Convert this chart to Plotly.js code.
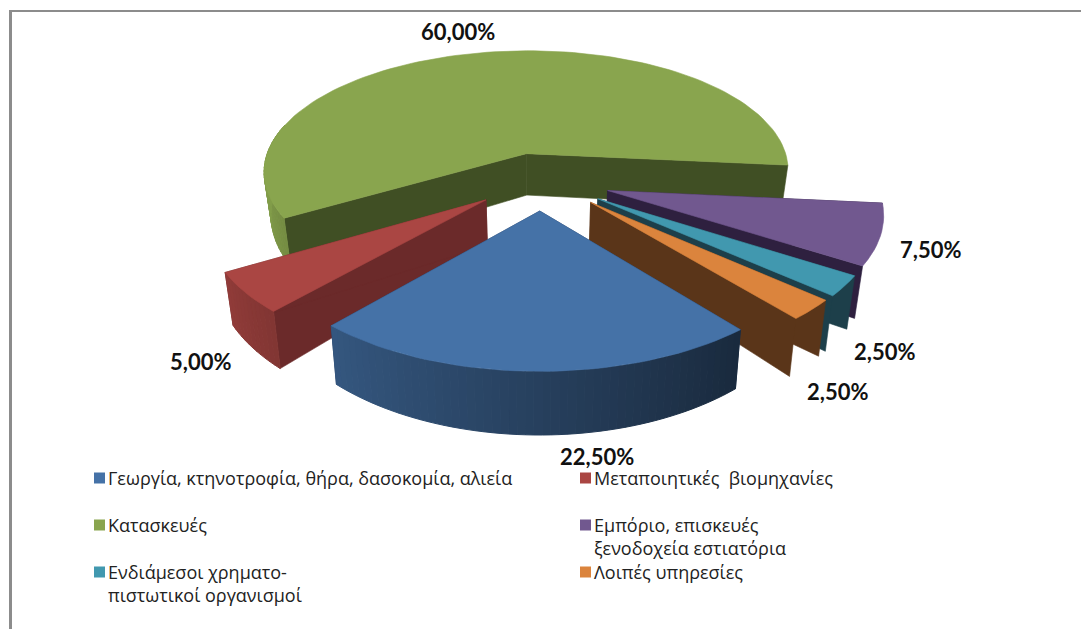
<!DOCTYPE html>
<html><head><meta charset="utf-8">
<script src="https://cdn.plot.ly/plotly-3.0.1.min.js"></script>
<style>html,body{margin:0;padding:0;background:#fff}#chart{width:1081px;height:629px}</style>
</head><body><div id="chart"></div>
<script>
// Data, in chart order (clockwise)
var categories = ["Γεωργία, κτηνοτροφία, θήρα, δασοκομία, αλιεία","Μεταποιητικές  βιομηχανίες","Κατασκευές","Εμπόριο, επισκευές<br>ξενοδοχεία εστιατόρια","Ενδιάμεσοι χρηματο-<br>πιστωτικοί οργανισμοί","Λοιπές υπηρεσίες"];
var values = [22.5, 5, 60, 7.5, 2.5, 2.5];
var valueLabels = ["22,50%","5,00%","60,00%","7,50%","2,50%","2,50%"];
var topColors = [[69,114,167],[170,70,67],[137,165,78],[113,88,143],[65,152,175],[219,132,61]];
var wallColors = [[34,56,90],[107,42,42],[64,79,36],[46,32,63],[29,63,74],[90,53,25]];
var labelPos = [[597,456],[200,361],[458,31],[930,249],[884,351],[837,391]];
var legendPos = [[94,478],[580,478],[94,525],[580,525],[94,572],[580,572]];

// Projection of the tilted, exploded pie
var cx=541, cy=181, R=268, K=126, P=0.151, H=44, EXPL=0.23, EXX=1.13, BOTTOM_SHRINK=0.975, FIRST_ANGLE=50.5;
function proj(x,v,z){ // x,v in radius units; z=0 top face, z=1 bottom face
  var s=1/(1-P*v);
  var b=z?BOTTOM_SHRINK:1;
  return [cx+R*x*s*b, cy+K*v*s+(z?H*Math.pow(s,1.8):0)];
}
function rgb(c,f){f=f===undefined?1:f;return 'rgb('+c.map(function(a){return Math.round(a*f)}).join(',')+')';}
var total=values.reduce(function(a,b){return a+b},0);
var slices=[], ang=FIRST_ANGLE; // screen angle, y down: 0 = right, 90 = toward viewer, increasing clockwise
values.forEach(function(val,i){
  var span=val/total*360, st=ang, en=ang+span, mid=(st+en)/2;
  slices.push({i:i,st:st,en:en,ox:Math.cos(mid*Math.PI/180)*EXPL*EXX,ov:Math.sin(mid*Math.PI/180)*EXPL});
  ang=en;
});
function rimPt(sl,a,z){var t=a*Math.PI/180;return proj(sl.ox+Math.cos(t),sl.ov+Math.sin(t),z);}
function apex(sl,z){return proj(sl.ox,sl.ov,z);}
var traces=[];
function poly(pts,color,lw){
  traces.push({type:'scatter',mode:'lines',x:pts.map(function(p){return p[0]}).concat([pts[0][0]]),y:pts.map(function(p){return p[1]}).concat([pts[0][1]]),
    fill:'toself',fillcolor:color,line:{color:color,width:lw===undefined?0.6:lw},hoverinfo:'skip',showlegend:false});
}
function wallShade(a){ // a = screen angle between 0 (right) and 180 (left)
  var f=1-0.0049*(180-a);
  return Math.max(0.36,Math.min(0.95,f));
}
function drawSlice(sl){
  var base=topColors[sl.i];
  [sl.st,sl.en].forEach(function(a){
    poly([apex(sl,0),rimPt(sl,a,0),rimPt(sl,a,1),apex(sl,1)],rgb(wallColors[sl.i]));
  });
  var step=1.5;
  for(var a=sl.st;a<sl.en-0.01;a+=step){
    var b=Math.min(a+step,sl.en);
    var m=(a+b)/2;
    if(m>195) continue;
    var f=m>180?0.92:wallShade(m);
    poly([rimPt(sl,a,0),rimPt(sl,b,0),rimPt(sl,b,1),rimPt(sl,a,1)],rgb(base,f),1);
  }
  var pts=[apex(sl,0)];
  for(var a2=sl.st;a2<sl.en;a2+=2)pts.push(rimPt(sl,a2,0));
  pts.push(rimPt(sl,sl.en,0));
  poly(pts,rgb(base));
}
[2,3,4,5,1,0].forEach(function(i){drawSlice(slices[i]);});
// legend swatches
traces.push({type:'scatter',mode:'markers',x:legendPos.map(function(p){return p[0]+5.5}),y:legendPos.map(function(p){return p[1]}),
  marker:{symbol:'square',size:11,color:topColors.map(function(c){return rgb(c)})},hoverinfo:'skip',showlegend:false});
var anns=[];
valueLabels.forEach(function(t,i){
  anns.push({x:labelPos[i][0],y:labelPos[i][1],xref:'x',yref:'y',text:t,showarrow:false,xanchor:'center',yanchor:'middle',
    font:{family:'Lato, "Open Sans", sans-serif',size:22,color:'#111',weight:700}});
});
categories.forEach(function(t,i){
  anns.push({x:legendPos[i][0]+12,y:legendPos[i][1]-14,xref:'x',yref:'y',text:t,showarrow:false,xanchor:'left',yanchor:'top',align:'left',
    font:{family:'"Open Sans", sans-serif',size:18,color:'#222'}});
});
var layout={width:1081,height:629,margin:{l:0,r:0,t:0,b:0},paper_bgcolor:'#fff',plot_bgcolor:'#fff',showlegend:false,
  xaxis:{range:[0,1081],visible:false,fixedrange:true},
  yaxis:{range:[629,0],visible:false,fixedrange:true},
  annotations:anns,
  shapes:[
    {type:'line',xref:'x',yref:'y',x0:9,x1:1081,y0:11,y1:11,line:{color:'#8c8c8c',width:2}},
    {type:'line',xref:'x',yref:'y',x0:10.5,x1:10.5,y0:10,y1:629,line:{color:'#8c8c8c',width:3}}
  ]};
Plotly.newPlot('chart',traces,layout,{displayModeBar:false,staticPlot:true});
</script></body></html>
